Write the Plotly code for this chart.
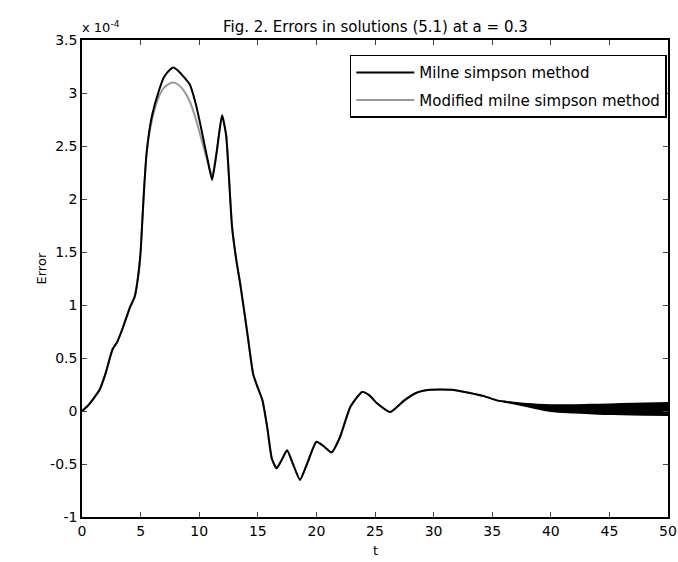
import plotly.graph_objects as go

# time points (t) for the main curves
t = [0, 0.5, 1.0, 1.5, 2.0, 2.6, 3.0, 3.5, 4.1, 4.5, 4.8, 5.0, 5.15, 5.3, 5.5, 5.75, 6.0, 6.5, 7.0,
     7.5, 7.8, 8.2, 8.7, 9.2, 9.7, 10.2, 10.7, 11.1, 11.5, 11.95, 12.3, 12.8, 13.2, 13.5, 14.1,
     14.6, 15.0, 15.4, 15.8, 16.2, 16.6, 17.0, 17.5, 18.0, 18.6, 19.2, 20.0, 20.6, 21.3, 22.0,
     22.9, 23.9, 24.5, 25.2, 26.3, 27.5, 28.5, 29.7, 31.5, 33.1, 34.3, 35.4, 36.0]

# Milne simpson method error (x 1e-4)
milne = [0, 0.05, 0.12, 0.2, 0.35, 0.58, 0.65, 0.79, 0.98, 1.08, 1.28, 1.5, 1.8, 2.1, 2.42, 2.65,
         2.8, 3.0, 3.15, 3.22, 3.24, 3.21, 3.15, 3.08, 2.9, 2.65, 2.38, 2.18, 2.45, 2.79, 2.6,
         1.74, 1.4, 1.2, 0.74, 0.35, 0.22, 0.1, -0.15, -0.45, -0.54, -0.47, -0.37, -0.5, -0.65,
         -0.5, -0.29, -0.33, -0.39, -0.25, 0.04, 0.18, 0.15, 0.07, -0.01, 0.1, 0.17, 0.2, 0.2,
         0.17, 0.14, 0.1, 0.09]

# Modified milne simpson method error (x 1e-4)
modified = [0, 0.05, 0.12, 0.2, 0.35, 0.58, 0.65, 0.79, 0.98, 1.08, 1.28, 1.5, 1.8, 2.1, 2.42,
            2.62, 2.76, 2.95, 3.05, 3.09, 3.1, 3.08, 3.02, 2.92, 2.76, 2.56, 2.36, 2.22, 2.45,
            2.79, 2.6, 1.74, 1.4, 1.2, 0.74, 0.35, 0.22, 0.1, -0.15, -0.45, -0.54, -0.47, -0.37,
            -0.5, -0.65, -0.5, -0.29, -0.33, -0.39, -0.25, 0.04, 0.18, 0.15, 0.07, -0.01, 0.1,
            0.17, 0.2, 0.2, 0.17, 0.14, 0.1, 0.09]

# dense oscillation band at late times (envelopes, x 1e-4)
band_t = [36, 38, 40, 42, 44, 46, 48, 50]
band_hi = [0.09, 0.065, 0.055, 0.055, 0.06, 0.065, 0.07, 0.075]
band_lo = [0.09, 0.045, 0.0, -0.015, -0.025, -0.03, -0.035, -0.038]

x_ticks = [0, 5, 10, 15, 20, 25, 30, 35, 40, 45, 50]
y_ticks = [-1, -0.5, 0, 0.5, 1, 1.5, 2, 2.5, 3, 3.5]
y_ticktext = ["-1", "-0.5", "0", "0.5", "1", "1.5", "2", "2.5", "3", "3.5"]

FONT = "DejaVu Sans, Liberation Sans, Arial, sans-serif"

fig = go.Figure()

fig.add_trace(go.Scatter(x=t, y=modified, mode="lines", name="Modified milne simpson method",
                         legendgroup="b", legendrank=2,
                         line=dict(color="#999999", width=2, shape="spline", smoothing=0.5)))
fig.add_trace(go.Scatter(x=t, y=milne, mode="lines", name="Milne simpson method",
                         legendgroup="a", legendrank=1,
                         line=dict(color="black", width=2, shape="spline", smoothing=0.5)))
fig.add_trace(go.Scatter(x=band_t, y=band_hi, mode="lines", showlegend=False,
                         line=dict(color="black", width=2, shape="spline")))
fig.add_trace(go.Scatter(x=band_t, y=band_lo, mode="lines", showlegend=False, fill="tonexty",
                         fillcolor="black", line=dict(color="black", width=2, shape="spline")))

fig.update_layout(
    width=678, height=562,
    margin=dict(l=82, r=10, t=40, b=45),
    paper_bgcolor="white", plot_bgcolor="white",
    font=dict(family=FONT, size=13, color="black"),
    showlegend=True,
    legend=dict(x=0.998, y=0.969, xanchor="right", yanchor="top",
                bgcolor="white", bordercolor="black", borderwidth=1.5,
                font=dict(size=15), traceorder="grouped", tracegroupgap=5,
                itemwidth=58),
)
fig.update_xaxes(range=[0, 50], tickvals=x_ticks, ticks="inside", ticklen=5, automargin=False,
                 showline=True, linecolor="black", linewidth=1.5, mirror="ticks",
                 showgrid=False, zeroline=False, tickfont=dict(size=14))
fig.update_yaxes(range=[-1, 3.5], tickvals=y_ticks, ticktext=y_ticktext, ticks="inside", ticklen=5,
                 automargin=False,
                 showline=True, linecolor="black", linewidth=1.5, mirror="ticks",
                 showgrid=False, zeroline=False, tickfont=dict(size=14))

fig.add_annotation(text="Fig. 2. Errors in solutions (5.1) at a = 0.3", xref="paper", yref="paper",
                   x=0.5, y=1, yshift=13, showarrow=False, font=dict(size=15),
                   xanchor="center", yanchor="middle")
fig.add_annotation(text="x 10<sup>-4</sup>", xref="paper", yref="paper", x=0, y=1, xshift=-2,
                   yshift=3, showarrow=False, font=dict(size=13), xanchor="left", yanchor="bottom")
fig.add_annotation(text="Error", xref="paper", yref="paper", x=0, xshift=-50, y=0.52,
                   textangle=-90, showarrow=False, font=dict(size=13))
fig.add_annotation(text="t", xref="paper", yref="paper", x=0.5, y=0, yshift=-43,
                   showarrow=False, font=dict(size=13))

fig.write_html("out.html", config={"displayModeBar": False},
               post_script="document.body.style.margin='0';")
